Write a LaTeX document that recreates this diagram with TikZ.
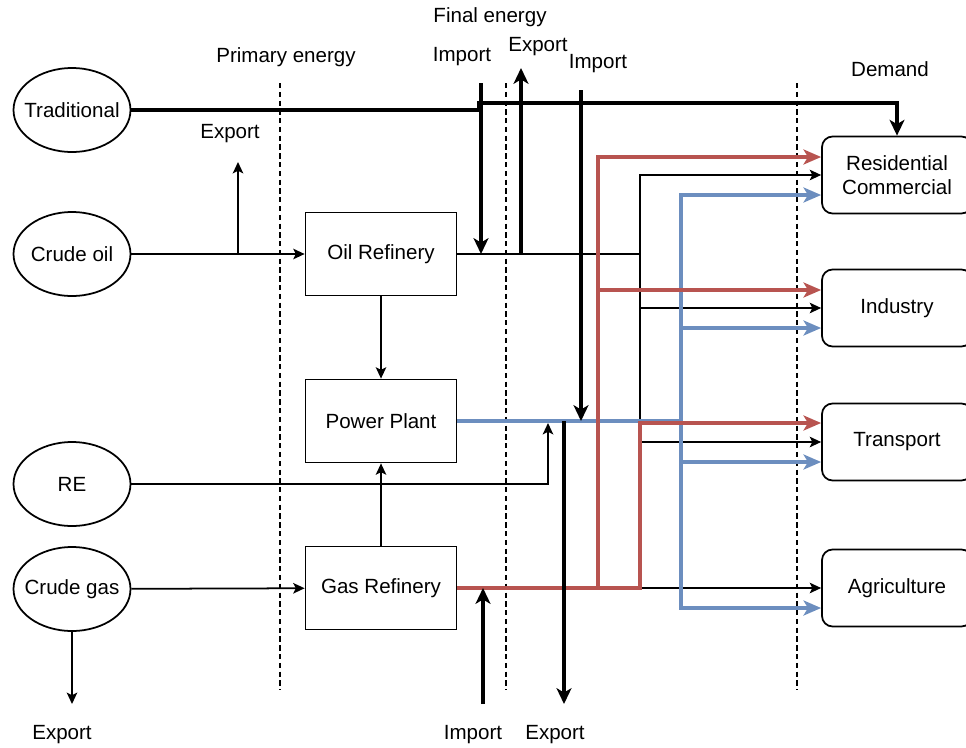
\documentclass[tikz,border=0pt]{standalone}
\usepackage{fontspec}
\setmainfont{Liberation Sans}
\usetikzlibrary{arrows.meta, positioning, shapes.geometric, calc}
\definecolor{FlowRed}{HTML}{B85450}
\definecolor{FlowBlue}{HTML}{6C8EBF}

\begin{document}
\begin{tikzpicture}[
    x=0.02cm, y=-0.02cm,
    font=\fontsize{11.7}{13.5}\selectfont,
    source/.style={ellipse, draw, line width=1pt, minimum width=2.34cm, minimum height=1.68cm, inner xsep=-0.25cm, inner ysep=0pt},
    plant/.style={rectangle, draw, line width=1pt, minimum width=3.02cm, minimum height=1.66cm, align=center},
    demand/.style={rectangle, rounded corners=6pt, draw, line width=1pt, minimum width=3cm, minimum height=1.54cm, align=center},
    border/.style={thick, dash pattern=on 3pt off 2pt},
    arrow/.style={-{Stealth[length=6.5pt, width=6pt, inset=1.5pt]}, line width=1pt},
    bigarrow/.style={-{Stealth[length=9pt, width=8.5pt, inset=2.5pt]}, line width=1.9pt},
    redflow/.style={-{Stealth[length=10pt, width=8.5pt, inset=2.5pt]}, line width=1.9pt, draw=FlowRed},
    blueflow/.style={-{Stealth[length=10pt, width=8.5pt, inset=2.5pt]}, line width=1.9pt, draw=FlowBlue}
]
\useasboundingbox (0,0) rectangle (966,747);

\node[source] (trad) at (72,110) {Traditional};
\node[source] (oil) at (72,254) {Crude oil};
\node[source] (re) at (72,484) {RE};
\node[source] (gas) at (72,589) {Crude gas};

\node[plant] (oilref) at (381,254) {Oil Refinery};
\node[plant] (pp) at (381,421) {Power Plant};
\node[plant] (gasref) at (381,588) {Gas Refinery};

\node[demand] (res) at (897,175) {Residential\\Commercial};
\node[demand] (ind) at (897,308) {Industry};
\node[demand] (tra) at (897,442) {Transport};
\node[demand] (agr) at (897,588) {Agriculture};

\node (lprim) at (286,57) {Primary energy};
\node (lfinal) at (490,17) {Final energy};
\node (ldem) at (890,69) {Demand};
\node (limp1) at (462,57) {Import};
\node (lexp1) at (538,47) {Export};
\node (limp2) at (598,64) {Import};
\node (lexp0) at (230,134) {Export};
\node (lexpg) at (62,735) {Export};
\node (limp3) at (473,735) {Import};
\node (lexp2) at (555,735) {Export};

\draw[border] (280,83) -- (280,690);
\draw[border] (506,83) -- (506,690);
\draw[border] (797,83) -- (797,690);

\coordinate (oilexp) at (238,162);
\coordinate (gasexp) at (72,704);
\coordinate (reup) at (548,423);
\coordinate (tradstep) at (479,103);
\coordinate (imp1) at (481,83);
\coordinate (exp1) at (521,68);
\coordinate (imp2) at (581,90);
\coordinate (exp2) at (564,704);
\coordinate (imp3) at (483,704);
\coordinate (rbusA) at (598,0);
\coordinate (kbus) at (640,0);
\coordinate (bbus) at (681,0);

\coordinate (res-r) at ($(res.west)+(0,-18)$);
\coordinate (res-k) at (res.west);
\coordinate (res-b) at ($(res.west)+(0,20)$);
\coordinate (ind-r) at ($(ind.west)+(0,-18)$);
\coordinate (ind-k) at (ind.west);
\coordinate (ind-b) at ($(ind.west)+(0,20)$);
\coordinate (tra-r) at ($(tra.west)+(0,-19)$);
\coordinate (tra-k) at (tra.west);
\coordinate (tra-b) at ($(tra.west)+(0,20)$);
\coordinate (agr-k) at (agr.west);
\coordinate (agr-b) at ($(agr.west)+(0,20)$);

\draw[arrow] (oil) -- (oilref);
\draw[arrow] (oilexp |- oil.east) -- (oilexp);
\draw[arrow] (oilref) -- (pp);
\draw[arrow] (gasref) -- (pp);
\draw[arrow] (gas) -- (gasref);
\draw[arrow] (gas) -- (gasexp);
\draw[arrow] (re) -| (reup);

\draw[arrow] (oilref.east) -| (kbus |- res-k) -- (res-k);
\draw[arrow] (kbus |- oilref.east) |- (agr-k);
\draw[arrow] (kbus |- ind-k) -- (ind-k);
\draw[arrow] (kbus |- tra-k) -- (tra-k);

\draw[blueflow] (pp.east) -| (bbus |- res-b) -- (res-b);
\draw[blueflow] (bbus |- pp.east) |- (agr-b);
\draw[blueflow] (bbus |- ind-b) -- (ind-b);
\draw[blueflow] (bbus |- tra-b) -- (tra-b);

\draw[redflow] (gasref.east) -| (kbus |- tra-r) -- (tra-r);
\draw[redflow] (rbusA |- gasref.east) |- (res-r);
\draw[redflow] (rbusA |- ind-r) -- (ind-r);

\draw[bigarrow] (trad.east) -- (trad.east -| tradstep) -- (tradstep) -| (res.north);
\draw[bigarrow] (imp1) -- (imp1 |- oilref.east);
\draw[bigarrow] (exp1 |- oilref.east) -- (exp1);
\draw[bigarrow] (imp2) -- (imp2 |- pp.east);
\draw[bigarrow] (exp2 |- pp.east) -- (exp2);
\draw[bigarrow] (imp3) -- (imp3 |- gasref.east);
\end{tikzpicture}
\end{document}
